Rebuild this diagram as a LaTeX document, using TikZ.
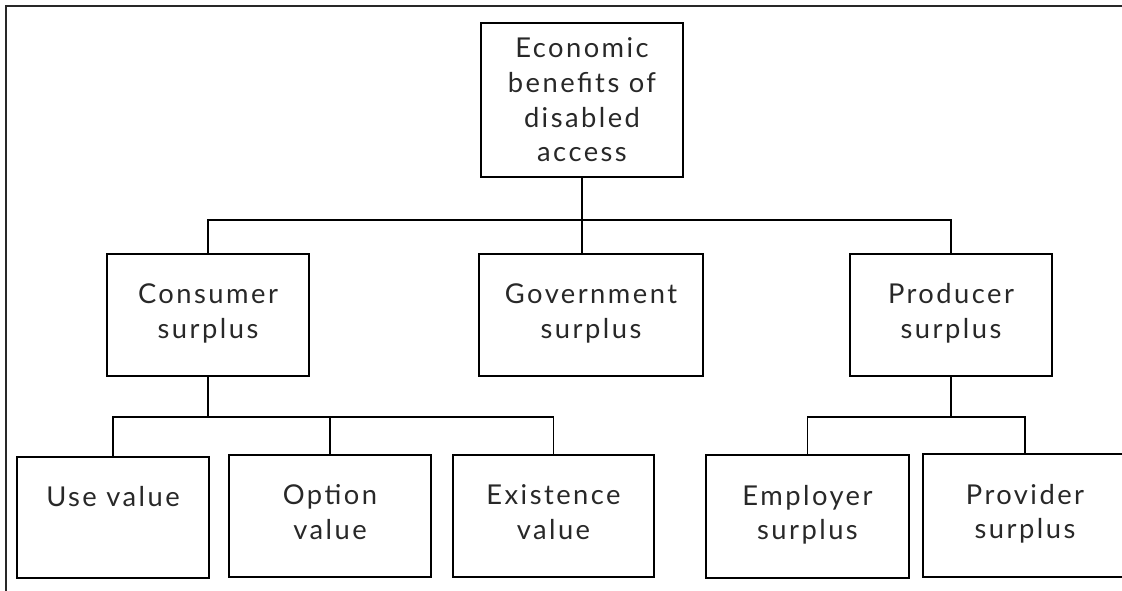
\documentclass[tikz,border=0pt]{standalone}
\usepackage{fontspec}
\setmainfont{Lato}[LetterSpace=9]
\usetikzlibrary{positioning}
\definecolor{ink}{RGB}{40, 40, 40}

\begin{document}
\begin{tikzpicture}[x=0.75pt, y=-0.75pt,
    box/.style={draw, line width=1.2pt, inner sep=0pt, align=center, text=ink,
                font=\fontsize{20.5}{26}\selectfont},
    wire/.style={line width=1.2pt}]
            \useasboundingbox (0,0) rectangle (1122,591);
            \draw[line width=1.6pt, ink] (1122,6) -- (6,6) -- (6,591);
            % top
            \node[box, minimum width=151.5pt, minimum height=115.5pt] (econ) at (582,100)
                 {Economic\\benefits of\\disabled\\access};
            % middle row
            \node[box, minimum width=151.5pt, minimum height=91.5pt]  (consumer)   at ( 208.0,315.0) {Consumer\\surplus\\[-20pt]\mbox{}};
            \node[box, minimum width=168.0pt, minimum height=91.5pt]  (government) at ( 591.0,315.0) {Government\\surplus\\[-20pt]\mbox{}};
            \node[box, minimum width=151.5pt, minimum height=91.5pt]  (producer)   at ( 951.0,315.0) {Producer\\surplus\\[-20pt]\mbox{}};
            % bottom row
            \node[box, minimum width=144.0pt, minimum height=90.75pt] (use)        at ( 113.0,517.5) {Use value\\\mbox{}\\[-20pt]\mbox{}};
            \node[box, minimum width=151.5pt, minimum height=91.5pt]  (option)     at ( 330.0,516.0) {Option\\value\\[-20pt]\mbox{}};
            \node[box, minimum width=150.75pt,minimum height=91.5pt]  (existence)  at ( 553.5,516.0) {Existence\\value\\[-20pt]\mbox{}};
            \node[box, minimum width=152.25pt,minimum height=92.25pt] (employer)   at ( 807.5,516.5) {Employer\\surplus\\[-20pt]\mbox{}};
            \node[box, minimum width=153.0pt, minimum height=92.25pt] (provider)   at (1025.0,515.5) {Provider\\surplus\\[-20pt]\mbox{}};
            % connectors
            \draw[wire] (econ.south) -- ++(0,42) -| (consumer.north);
            \draw[wire] (econ.south) -- ++(0,42) -| (producer.north);
            \draw[wire] (econ.south) -- (econ.south |- government.north);
            \draw[wire] (consumer.south) -- ++(0,40) -| (use.north);
            \draw[wire] (consumer.south) -- ++(0,40) -| (option.north);
            \draw[wire] (consumer.south) -- ++(0,40) -| (existence.north);
            \draw[wire] (producer.south) -- ++(0,40) -| (employer.north);
            \draw[wire] (producer.south) -- ++(0,40) -| (provider.north);
\end{tikzpicture}
\end{document}
